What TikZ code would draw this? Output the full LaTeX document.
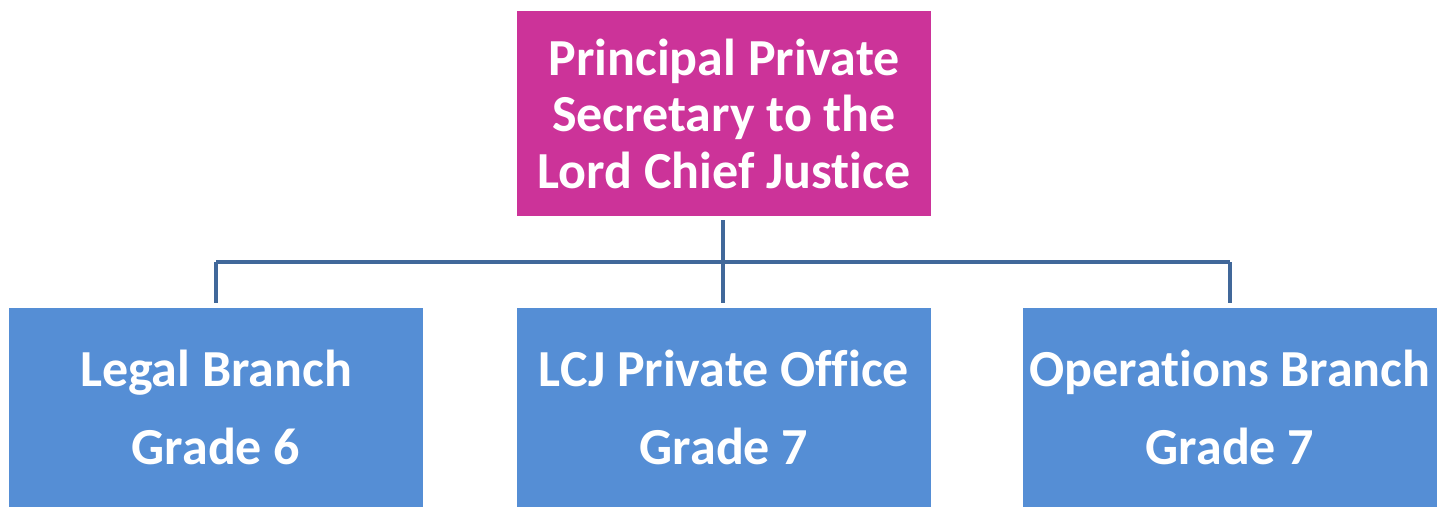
\documentclass[tikz,border=0pt]{standalone}
\usepackage{fontspec}
\setmainfont[Ligatures=CommonOff]{Carlito}
\definecolor{pink}{HTML}{CC3399}
\definecolor{boxblue}{HTML}{558ED5}
\definecolor{linkblue}{HTML}{41689A}
\begin{document}
\begin{tikzpicture}[x=1pt,y=-1pt,
  unit/.style={rectangle, inner sep=0pt, text=white, align=center,
    minimum width=414pt, font=\bfseries\fontsize{52}{56.5}\selectfont},
  head/.style={unit, fill=pink, minimum height=205pt},
  branch/.style={unit, fill=boxblue, minimum height=199pt},
  link/.style={draw=linkblue, line width=4pt}]
\useasboundingbox (0,0) rectangle (1438,507);
\node[head] (top) at (724,113.5) {Principal Private\\Secretary to the\\Lord Chief Justice};
\node[branch] (legal) at (216,407.5) {Legal Branch\\[22pt]Grade 6};
\node[branch] (lcj) at (724,407.5) {LCJ Private Office\\[22pt]Grade 7};
\node[branch] (ops) at (1230,407.5) {Operations Branch\\[22pt]Grade 7};
\coordinate (hub) at (723,262);
\draw[link, shorten <=4pt, shorten >=5pt] (top.south -| hub) -- (lcj.north -| hub);
\draw[link] (legal.north |- hub) -- (ops.north |- hub);
\draw[link, shorten >=5pt] (legal.north |- hub) -- (legal.north);
\draw[link, shorten >=5pt] (ops.north |- hub) -- (ops.north);
\end{tikzpicture}
\end{document}
